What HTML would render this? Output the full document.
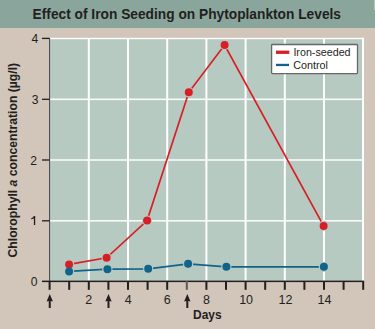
<!DOCTYPE html>
<html><head><meta charset="utf-8"><style>
html,body{margin:0;padding:0;}
body{width:375px;height:329px;overflow:hidden;background:#D2C5BA;position:relative;font-family:"Liberation Sans",sans-serif;}
#tb{position:absolute;left:0;top:0;width:375px;height:27.6px;background:#8AA59B;}
svg{position:absolute;left:0;top:0;}
.n{font:12.5px "Liberation Sans",sans-serif;fill:#231F20;}
.b{font:bold 12px "Liberation Sans",sans-serif;fill:#231F20;}
.l{font:11px "Liberation Sans",sans-serif;fill:#231F20;}
.yl{font:bold 12.2px "Liberation Sans",sans-serif;fill:#231F20;}
.t{font:bold 13.75px "Liberation Sans",sans-serif;fill:#231F20;}
</style></head><body>
<div id="tb"></div><div style="position:absolute;left:374px;top:0;width:1px;height:10px;background:#b9c6c0"></div>
<svg width="375" height="329" viewBox="0 0 375 329">
<text transform="translate(32.6,18.7) scale(1.0,1.04)" class="t">Effect of Iron Seeding on Phytoplankton Levels</text>
<rect x="50" y="38.5" width="312.5" height="242" fill="#B7CAC2"/>
<rect x="87.80" y="38.5" width="2.0" height="242" fill="#fff"/>
<rect x="127.00" y="38.5" width="2.0" height="242" fill="#fff"/>
<rect x="166.20" y="38.5" width="2.0" height="242" fill="#fff"/>
<rect x="205.40" y="38.5" width="2.0" height="242" fill="#fff"/>
<rect x="244.60" y="38.5" width="2.0" height="242" fill="#fff"/>
<rect x="283.80" y="38.5" width="2.0" height="242" fill="#fff"/>
<rect x="323.00" y="38.5" width="2.0" height="242" fill="#fff"/>
<rect x="50" y="98.50" width="312.5" height="1.6" fill="#f8faf9"/>
<rect x="50" y="159.20" width="312.5" height="1.6" fill="#f8faf9"/>
<rect x="50" y="220.00" width="312.5" height="1.6" fill="#f8faf9"/>
<rect x="50" y="37.8" width="314" height="1.4" fill="#fff"/>
<rect x="362" y="37.8" width="2" height="243" fill="#fff"/>
<rect x="49" y="38" width="1.1" height="244" fill="#4a5250"/>
<rect x="42" y="280.6" width="322" height="1.5" fill="#231F20"/>
<rect x="42" y="37.75" width="7.5" height="1.3" fill="#231F20"/>
<rect x="42" y="98.65" width="7.5" height="1.3" fill="#231F20"/>
<rect x="42" y="159.35" width="7.5" height="1.3" fill="#231F20"/>
<rect x="42" y="220.15" width="7.5" height="1.3" fill="#231F20"/>
<rect x="48.60" y="281" width="2" height="8.8" fill="#231F20"/>
<rect x="68.20" y="281" width="2" height="8.8" fill="#231F20"/>
<rect x="87.80" y="281" width="2" height="8.8" fill="#231F20"/>
<rect x="107.40" y="281" width="2" height="8.8" fill="#231F20"/>
<rect x="127.00" y="281" width="2" height="8.8" fill="#231F20"/>
<rect x="146.60" y="281" width="2" height="8.8" fill="#231F20"/>
<rect x="166.20" y="281" width="2" height="8.8" fill="#231F20"/>
<rect x="185.80" y="281" width="2" height="8.8" fill="#5a5a5a"/>
<rect x="205.40" y="281" width="2" height="8.8" fill="#231F20"/>
<rect x="225.00" y="281" width="2" height="8.8" fill="#231F20"/>
<rect x="244.60" y="281" width="2" height="8.8" fill="#231F20"/>
<rect x="264.20" y="281" width="2" height="8.8" fill="#231F20"/>
<rect x="283.80" y="281" width="2" height="8.8" fill="#231F20"/>
<rect x="303.40" y="281" width="2" height="8.8" fill="#231F20"/>
<rect x="323.00" y="281" width="2" height="8.8" fill="#231F20"/>
<rect x="342.60" y="281" width="2" height="8.8" fill="#231F20"/>
<rect x="362.20" y="281" width="2" height="8.8" fill="#231F20"/>
<path d="M49.75 294 L52.95 301.5 L50.75 301 L50.75 308 L48.75 308 L48.75 301 L46.55 301.5 Z" fill="#231F20"/>
<path d="M108.5 294 L111.7 301.5 L109.5 301 L109.5 308 L107.5 308 L107.5 301 L105.3 301.5 Z" fill="#231F20"/>
<path d="M187.3 294 L190.5 301.5 L188.3 301 L188.3 308 L186.3 308 L186.3 301 L184.10000000000002 301.5 Z" fill="#231F20"/>
<polyline points="69.1,264.4 106.6,257.8 147.1,220.6 188.8,92.3 224.6,45.0 323.6,225.9" fill="none" stroke="#D72026" stroke-width="1.75"/>
<polyline points="69.1,271.4 107.4,269.2 148.2,268.8 188.1,263.8 226.4,266.8 323.9,266.8" fill="none" stroke="#11638A" stroke-width="1.75"/>
<circle cx="69.1" cy="264.4" r="5.1" fill="#B7CAC2"/>
<circle cx="106.6" cy="257.8" r="5.1" fill="#B7CAC2"/>
<circle cx="147.1" cy="220.6" r="5.1" fill="#B7CAC2"/>
<circle cx="188.8" cy="92.3" r="5.1" fill="#B7CAC2"/>
<circle cx="224.6" cy="45.0" r="5.1" fill="#B7CAC2"/>
<circle cx="323.6" cy="225.9" r="5.1" fill="#B7CAC2"/>
<circle cx="69.1" cy="271.4" r="5.1" fill="#B7CAC2"/>
<circle cx="107.4" cy="269.2" r="5.1" fill="#B7CAC2"/>
<circle cx="148.2" cy="268.8" r="5.1" fill="#B7CAC2"/>
<circle cx="188.1" cy="263.8" r="5.1" fill="#B7CAC2"/>
<circle cx="226.4" cy="266.8" r="5.1" fill="#B7CAC2"/>
<circle cx="323.9" cy="266.8" r="5.1" fill="#B7CAC2"/>
<circle cx="69.1" cy="264.4" r="4" fill="#D72026"/>
<circle cx="106.6" cy="257.8" r="4" fill="#D72026"/>
<circle cx="147.1" cy="220.6" r="4" fill="#D72026"/>
<circle cx="188.8" cy="92.3" r="4" fill="#D72026"/>
<circle cx="224.6" cy="45.0" r="4" fill="#D72026"/>
<circle cx="323.6" cy="225.9" r="4" fill="#D72026"/>
<circle cx="69.1" cy="271.4" r="4" fill="#11638A"/>
<circle cx="107.4" cy="269.2" r="4" fill="#11638A"/>
<circle cx="148.2" cy="268.8" r="4" fill="#11638A"/>
<circle cx="188.1" cy="263.8" r="4" fill="#11638A"/>
<circle cx="226.4" cy="266.8" r="4" fill="#11638A"/>
<circle cx="323.9" cy="266.8" r="4" fill="#11638A"/>
<rect x="271.6" y="44.5" width="85.9" height="29.1" rx="0.8" fill="#fff" stroke="#666" stroke-width="1.3"/>
<rect x="276" y="50.6" width="13.3" height="3.3" fill="#D72026"/>
<rect x="276" y="63.8" width="13.1" height="2.3" fill="#11638A"/>
<text transform="translate(38.2,42.9) scale(0.97,1.05)" text-anchor="end" class="n">4</text>
<text transform="translate(38.4,104.0) scale(0.97,1.05)" text-anchor="end" class="n">3</text>
<text transform="translate(36.9,164.6) scale(0.97,1.05)" text-anchor="end" class="n">2</text>
<text transform="translate(37.6,286.1) scale(0.97,1.05)" text-anchor="end" class="n">0</text>
<path d="M33.9 216 L35.2 216 L35.2 225 L33.9 225 L33.9 218.3 Q32.8 219.1 31.2 219.3 L31.2 218.3 Q33 217.9 33.9 216 Z" fill="#231F20"/>
<text x="88.75" y="304" text-anchor="middle" class="n">2</text>
<text x="128.2" y="304" text-anchor="middle" class="n">4</text>
<text x="167.3" y="304" text-anchor="middle" class="n">6</text>
<text x="206.6" y="304" text-anchor="middle" class="n">8</text>
<text x="246.1" y="304" text-anchor="middle" class="n">10</text>
<text x="285.4" y="304" text-anchor="middle" class="n">12</text>
<text x="324.5" y="304" text-anchor="middle" class="n">14</text>
<text transform="translate(193,319.2) scale(1,1.05)" class="b">Days</text>
<text transform="translate(293.4,55.8) scale(0.975,1.05)" class="l">Iron-seeded</text>
<text transform="translate(293.2,68.8) scale(0.98,1.05)" class="l">Control</text>
<text transform="translate(17.2,257.5) rotate(-90)" class="yl">Chlorophyll <tspan font-style="italic">a</tspan> concentration (µg/l)</text>
</svg>
</body></html>
